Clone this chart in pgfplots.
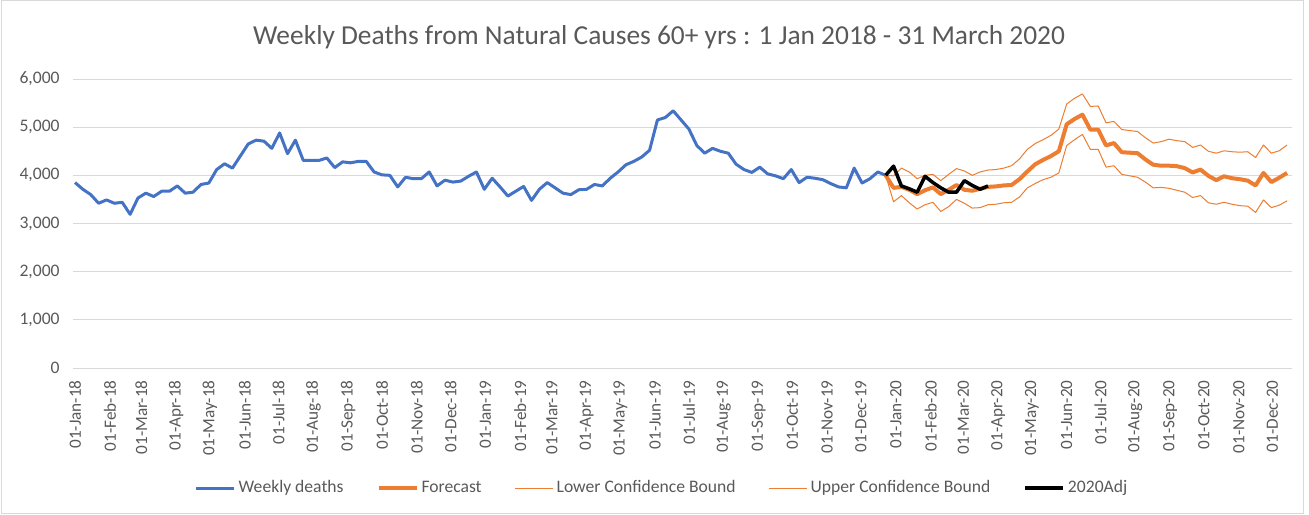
\documentclass[border=0pt]{standalone}
\usepackage{fontspec}
\setmainfont{Carlito}
\usepackage{pgfplots}
\usepackage{pgfplotstable}
\pgfplotsset{compat=1.18}

\definecolor{wkblue}{HTML}{4472C4}
\definecolor{fcorange}{HTML}{ED7D31}
\definecolor{gridgray}{HTML}{D9D9D9}
\definecolor{txtgray}{HTML}{595959}

% x = days since 01-Jan-2018, one row per week
\pgfplotstableread{
x y
0 3850
7 3710
14 3600
21 3420
28 3490
35 3420
42 3440
49 3190
56 3530
63 3630
70 3560
77 3670
84 3670
91 3780
98 3630
105 3650
112 3810
119 3840
126 4120
133 4240
140 4150
147 4400
154 4650
161 4730
168 4710
175 4560
182 4880
189 4450
196 4730
203 4310
210 4310
217 4310
224 4360
231 4160
238 4280
245 4260
252 4290
259 4290
266 4070
273 4010
280 4000
287 3760
294 3960
301 3930
308 3930
315 4070
322 3780
329 3900
336 3860
343 3880
350 3980
357 4070
364 3710
371 3940
378 3760
385 3570
392 3670
399 3770
406 3480
413 3710
420 3850
427 3740
434 3630
441 3600
448 3700
455 3710
462 3810
469 3780
476 3940
483 4070
490 4220
497 4290
504 4380
511 4520
518 5150
525 5200
532 5340
539 5150
546 4960
553 4620
560 4460
567 4560
574 4500
581 4460
588 4230
595 4120
602 4060
609 4170
616 4030
623 3990
630 3930
637 4120
644 3850
651 3960
658 3940
665 3910
672 3830
679 3760
686 3740
693 4150
700 3840
707 3930
714 4070
721 4000
}\weekly

\pgfplotstableread{
x fc lo hi
721 4000 4000 4000
728 3740 3450 3990
735 3760 3580 4150
742 3700 3430 4070
749 3610 3300 3930
756 3690 3390 4000
763 3750 3440 4020
770 3610 3250 3890
777 3700 3350 4020
784 3800 3500 4140
791 3700 3420 4090
798 3680 3320 4000
805 3720 3330 4070
812 3760 3390 4110
819 3770 3400 4120
826 3790 3430 4150
833 3800 3440 4200
840 3920 3550 4340
847 4080 3740 4540
854 4230 3830 4660
861 4320 3910 4740
868 4400 3960 4830
875 4500 4050 4960
882 5060 4620 5480
889 5170 4740 5600
896 5260 4850 5690
903 4950 4540 5430
910 4950 4540 5440
917 4620 4170 5090
924 4670 4200 5120
931 4480 4020 4950
938 4470 3990 4930
945 4460 3960 4910
952 4330 3860 4780
959 4220 3740 4670
966 4200 3750 4700
973 4200 3730 4750
980 4190 3690 4720
987 4150 3650 4700
994 4060 3540 4580
1001 4120 3580 4630
1008 3990 3430 4500
1015 3900 3400 4460
1022 3980 3440 4510
1029 3940 3400 4490
1036 3920 3370 4480
1043 3890 3360 4490
1050 3790 3230 4370
1057 4050 3490 4630
1064 3860 3330 4460
1071 3950 3380 4510
1078 4050 3470 4630
}\forecast

\pgfplotstableread{
x y
721 4000
728 4190
735 3780
742 3720
749 3650
756 3980
763 3850
770 3740
777 3650
784 3650
791 3890
798 3790
805 3710
812 3780
}\adj

\begin{document}
\begin{tikzpicture}
\useasboundingbox (0,0) rectangle (654.5pt,257pt);
\draw[gridgray, line width=0.5pt] (0.5pt,0.5pt) rectangle (651.5pt,256.5pt);
\begin{axis}[
  at={(36.5pt,73pt)}, anchor=south west,
  scale only axis, width=609.5pt, height=144.5pt,
  xmin=-1.8, xmax=1082.4, ymin=0, ymax=6000,
  axis line style={draw=none},
  major tick length=0pt,
  ymajorgrids, grid style={gridgray, line width=0.5pt},
  ytick={0,1000,...,6000},
  scaled y ticks=false,
  yticklabel style={text=txtgray, font=\fontsize{8.8}{10}\selectfont,
    anchor=east, inner sep=0pt, xshift=-6.5pt,
    /pgf/number format/.cd, fixed, 1000 sep={,}, assume math mode=true},
  xtick={0,31,59,90,120,151,181,212,243,273,304,334,
         365,396,424,455,485,516,546,577,608,638,669,699,
         730,761,790,821,851,882,912,943,974,1004,1035,1065},
  xticklabels={01-Jan-18,01-Feb-18,01-Mar-18,01-Apr-18,01-May-18,01-Jun-18,
    01-Jul-18,01-Aug-18,01-Sep-18,01-Oct-18,01-Nov-18,01-Dec-18,
    01-Jan-19,01-Feb-19,01-Mar-19,01-Apr-19,01-May-19,01-Jun-19,
    01-Jul-19,01-Aug-19,01-Sep-19,01-Oct-19,01-Nov-19,01-Dec-19,
    01-Jan-20,01-Feb-20,01-Mar-20,01-Apr-20,01-May-20,01-Jun-20,
    01-Jul-20,01-Aug-20,01-Sep-20,01-Oct-20,01-Nov-20,01-Dec-20},
  xticklabel style={text=txtgray, font=\fontsize{8.6}{10}\selectfont,
    yshift=-6pt, rotate=90, anchor=east, inner sep=0pt},
  title={Weekly Deaths from Natural Causes 60+ yrs : 1 Jan 2018 - 31 March 2020},
  title style={at={(0.5,1)}, anchor=center, yshift=15pt, xshift=-11.75pt,
    text=txtgray, font=\fontsize{13.7}{16}\selectfont},
  legend columns=5,
  legend cell align=left,
  legend image code/.code={\draw[#1] (0pt,0pt) -- (19pt,0pt);},
  legend style={at={(0.5,0)}, anchor=center, yshift=-60pt, xshift=-10pt,
    draw=none, fill=none, text=txtgray, font=\fontsize{8.8}{10}\selectfont,
    nodes={inner sep=1.5pt},
    /tikz/every even column/.append style={column sep=15pt}},
]
\addplot[wkblue, line width=1.5pt, line join=round] table[x=x, y=y] {\weekly};
\addplot[fcorange, line width=2pt, line join=round] table[x=x, y=fc] {\forecast};
\addplot[fcorange, line width=0.5pt, line join=round] table[x=x, y=lo] {\forecast};
\addplot[fcorange, line width=0.5pt, line join=round] table[x=x, y=hi] {\forecast};
\addplot[black, line width=1.75pt, line join=round] table[x=x, y=y] {\adj};
\legend{Weekly deaths, Forecast, Lower Confidence Bound, Upper Confidence Bound, 2020Adj}
\end{axis}
\end{tikzpicture}
\end{document}
